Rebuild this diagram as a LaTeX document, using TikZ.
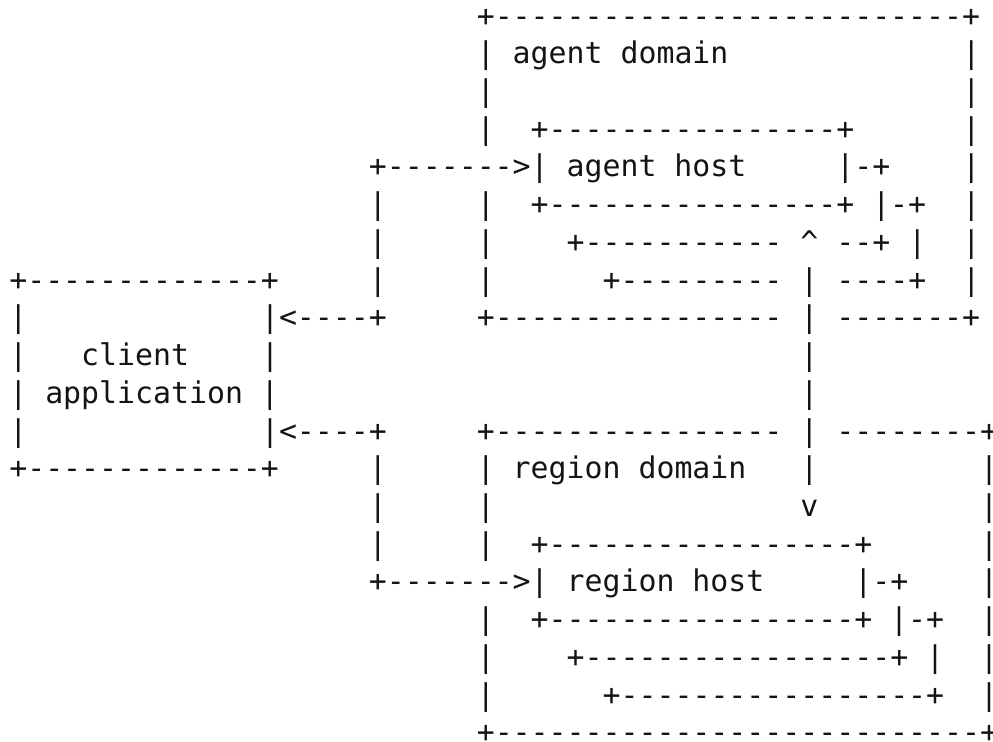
\documentclass[tikz,border=0pt]{standalone}
\usepackage{fontspec}
\setmonofont{DejaVu Sans Mono}
\usetikzlibrary{positioning}

% character grid of the text layout
\newlength{\colw}\setlength{\colw}{8.99pt}
\newlength{\rowh}\setlength{\rowh}{18.86pt}
\newlength{\xorg}\setlength{\xorg}{4.655pt}
\newlength{\yorg}\setlength{\yorg}{13.05pt}

\tikzset{
  cell/.style={anchor=base west, inner sep=0pt, outer sep=0pt,
    font=\ttfamily\fontsize{14.93}{18.86}\selectfont, text=black!92}
}

% \seg{name}{row}{column}{characters}
\newcommand{\seg}[4]{%
  \node[cell] (#1) at (\xorg+#3\colw, -\yorg-#2\rowh) {#4};}

\begin{document}
\begin{tikzpicture}
\useasboundingbox (0,0) rectangle (496.5pt,-370.5pt);

% agent domain
\seg{a0}{0}{26}{+--------------------------+}
\seg{a1l}{1}{26}{| agent domain}
\seg{a1r}{1}{53}{|}
\seg{a2l}{2}{26}{|}
\seg{a2r}{2}{53}{|}
\seg{a3l}{3}{26}{|}
\seg{a3m}{3}{29}{+----------------+}
\seg{a3r}{3}{53}{|}
\seg{a4l}{4}{20}{+------->| agent host}
\seg{a4m}{4}{46}{|-+}
\seg{a4r}{4}{53}{|}
\seg{a5a}{5}{20}{|}
\seg{a5l}{5}{26}{|}
\seg{a5m}{5}{29}{+----------------+ |-+}
\seg{a5r}{5}{53}{|}
\seg{a6a}{6}{20}{|}
\seg{a6l}{6}{26}{|}
\seg{a6m}{6}{31}{+-----------}
\seg{a6n}{6}{44}{\textasciicircum{} --+}
\seg{a6o}{6}{50}{|}
\seg{a6r}{6}{53}{|}
\seg{c7}{7}{0}{+-------------+}
\seg{a7a}{7}{20}{|}
\seg{a7l}{7}{26}{|}
\seg{a7m}{7}{33}{+---------}
\seg{a7n}{7}{44}{| ----+}
\seg{a7r}{7}{53}{|}
\seg{c8l}{8}{0}{|}
\seg{c8r}{8}{14}{|<----+}
\seg{a8l}{8}{26}{+----------------}
\seg{a8r}{8}{44}{| -------+}

% client application
\seg{c9l}{9}{0}{|}
\seg{c9t}{9}{4}{client}
\seg{c9r}{9}{14}{|}
\seg{v9}{9}{44}{|}
\seg{c10}{10}{0}{| application |}
\seg{v10}{10}{44}{|}
\seg{c11l}{11}{0}{|}
\seg{c11r}{11}{14}{|<----+}

% region domain
\seg{r11l}{11}{26}{+----------------}
\seg{r11r}{11}{44}{| --------+}
\seg{c12}{12}{0}{+-------------+}
\seg{r12a}{12}{20}{|}
\seg{r12l}{12}{26}{| region domain}
\seg{r12m}{12}{44}{|}
\seg{r12r}{12}{54}{|}
\seg{r13a}{13}{20}{|}
\seg{r13l}{13}{26}{|}
\seg{r13m}{13}{44}{v}
\seg{r13r}{13}{54}{|}
\seg{r14a}{14}{20}{|}
\seg{r14l}{14}{26}{|}
\seg{r14m}{14}{29}{+-----------------+}
\seg{r14r}{14}{54}{|}
\seg{r15l}{15}{20}{+------->| region host}
\seg{r15m}{15}{47}{|-+}
\seg{r15r}{15}{54}{|}
\seg{r16l}{16}{26}{|}
\seg{r16m}{16}{29}{+-----------------+ |-+}
\seg{r16r}{16}{54}{|}
\seg{r17l}{17}{26}{|}
\seg{r17m}{17}{31}{+-----------------+ |}
\seg{r17r}{17}{54}{|}
\seg{r18l}{18}{26}{|}
\seg{r18m}{18}{33}{+-----------------+}
\seg{r18r}{18}{54}{|}
\seg{r19}{19}{26}{+---------------------------+}
\end{tikzpicture}
\end{document}
